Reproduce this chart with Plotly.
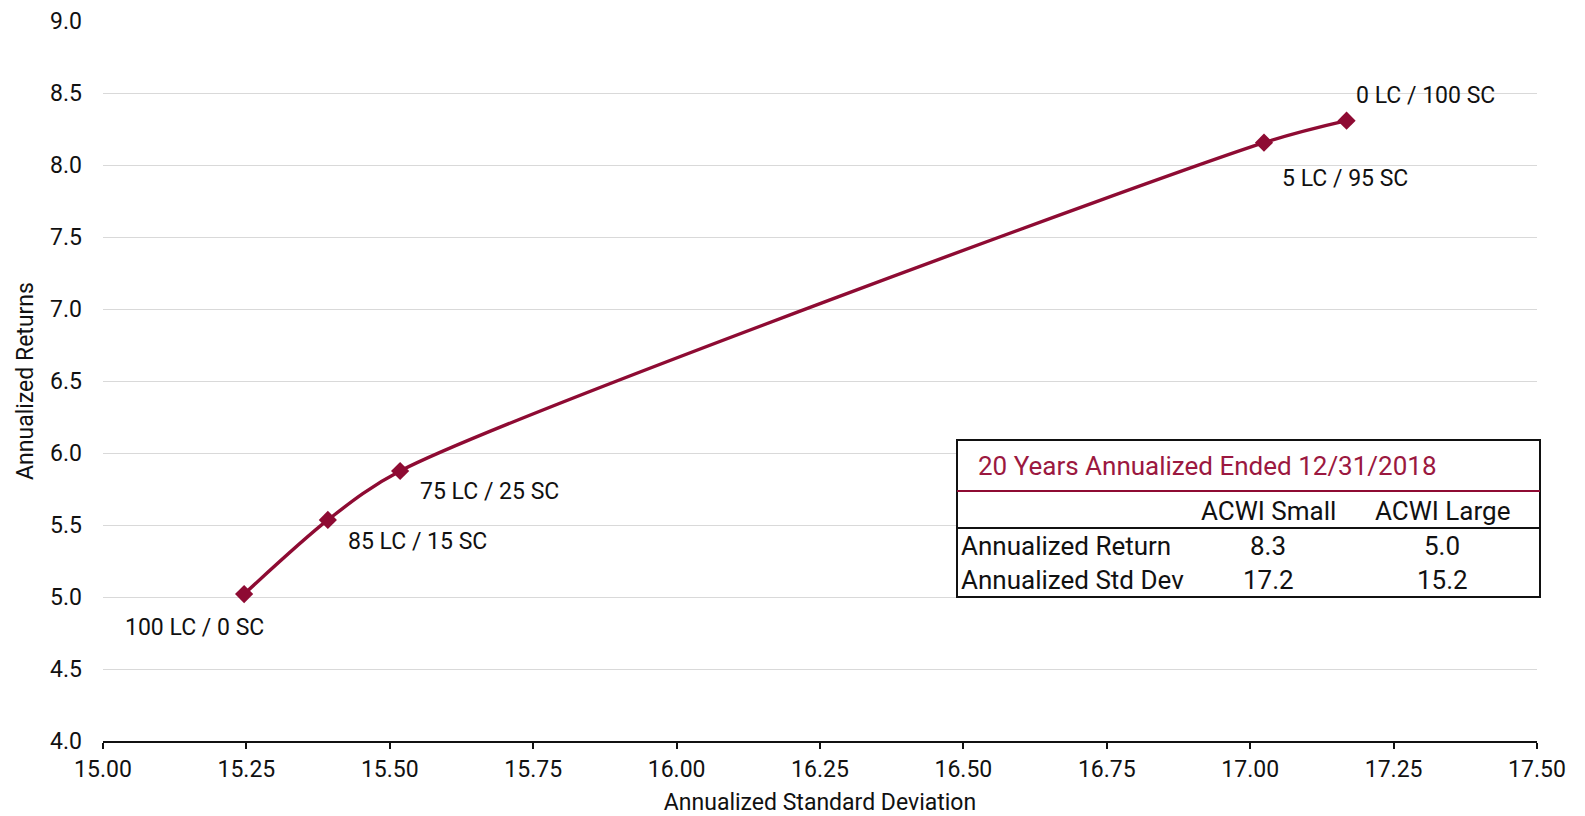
import plotly.graph_objects as go

# Efficient-frontier style mix of large cap (LC) and small cap (SC)
std_dev = [15.246, 15.392, 15.518, 17.024, 17.168]
returns = [5.02, 5.535, 5.875, 8.155, 8.308]
mix_labels = ["100 LC / 0 SC", "85 LC / 15 SC", "75 LC / 25 SC", "5 LC / 95 SC", "0 LC / 100 SC"]
label_shift_x = [-50, 90, 89, 81, 79]
label_shift_y = [-33, -22, -20, -36, 25]

# Summary table
table_title = "20 Years Annualized Ended 12/31/2018"
table_cols = ["ACWI Small", "ACWI Large"]
table_rows = ["Annualized Return", "Annualized Std Dev"]
small_vals = [8.3, 17.2]
large_vals = [5.0, 15.2]

MAROON = "#8E0B33"
FONT = "Roboto"
TXT = "#111111"

fig = go.Figure()
fig.add_trace(go.Scatter(
    x=std_dev, y=returns, mode="lines+markers",
    line=dict(color=MAROON, width=3.4, shape="spline", smoothing=0.8),
    marker=dict(symbol="diamond", size=14, color=MAROON),
    hoverinfo="skip", showlegend=False,
))

for xv, yv, lab, sx, sy in zip(std_dev, returns, mix_labels, label_shift_x, label_shift_y):
    fig.add_annotation(x=xv, y=yv, text=lab, showarrow=False, xshift=sx, yshift=sy,
                       xanchor="center", yanchor="middle",
                       font=dict(family=FONT, size=23, color=TXT))

# Table geometry in paper coordinates
PL, PW, PB, PH = 103, 1434, 741, 720
def px(v):
    return (v - PL) / PW
def py(v):
    return (PB - v) / PH

tx0, tx1 = px(957), px(1540)
ty_top, ty_red, ty_hdr, ty_bot = py(440), py(491), py(528), py(597)

fig.add_shape(type="rect", xref="paper", yref="paper", x0=tx0, x1=tx1, y0=ty_bot, y1=ty_top,
              line=dict(color=TXT, width=2), fillcolor="white", layer="above")
fig.add_shape(type="line", xref="paper", yref="paper", x0=tx0, x1=tx1, y0=ty_red, y1=ty_red,
              line=dict(color=MAROON, width=2))
fig.add_shape(type="line", xref="paper", yref="paper", x0=tx0, x1=tx1, y0=ty_hdr, y1=ty_hdr,
              line=dict(color=TXT, width=2))

TFS = 26
fig.add_annotation(xref="paper", yref="paper", x=px(976), y=py(466), xanchor="left", yanchor="middle",
                   text=table_title, showarrow=False, font=dict(family=FONT, size=TFS, color="#9B1840"))
col_x = [1268, 1442]
for cx, cname in zip(col_x, table_cols):
    fig.add_annotation(xref="paper", yref="paper", x=px(cx), y=py(511), text=cname, showarrow=False,
                       xanchor="center", yanchor="middle",
                       font=dict(family=FONT, size=TFS, color=TXT))
row_y = [546, 580]
for ry, rname, sv, lv in zip(row_y, table_rows, small_vals, large_vals):
    fig.add_annotation(xref="paper", yref="paper", x=px(959), y=py(ry), xanchor="left", yanchor="middle",
                       text=rname, showarrow=False, font=dict(family=FONT, size=TFS, color=TXT))
    for cx, val in zip(col_x, (sv, lv)):
        fig.add_annotation(xref="paper", yref="paper", x=px(cx), y=py(ry), text=f"{val:.1f}",
                           xanchor="center", yanchor="middle",
                           showarrow=False, font=dict(family=FONT, size=TFS, color=TXT))

fig.update_layout(
    width=1585, height=816,
    margin=dict(l=103, r=48, t=21, b=75),
    paper_bgcolor="white", plot_bgcolor="white",
    font=dict(family=FONT, size=23, color=TXT),
    xaxis=dict(
        range=[15, 17.5], dtick=0.25, tick0=15, tickformat=".2f",
        showline=True, linecolor=TXT, linewidth=2,
        ticks="outside", ticklen=6, tickwidth=2, tickcolor=TXT,
        showgrid=False, zeroline=False, automargin=False,
        title=dict(text="Annualized Standard Deviation", font=dict(size=23), standoff=15),
        tickfont=dict(size=23),
    ),
    yaxis=dict(
        range=[4, 9], dtick=0.5, tick0=4, tickformat=".1f",
        showline=False, showgrid=True, gridcolor="#D9D9D9", gridwidth=1,
        zeroline=False, ticklabelstandoff=20, automargin=False,
        title=dict(text="Annualized Returns", font=dict(size=23), standoff=10),
        tickfont=dict(size=23),
    ),
)

fig.write_html("out.html")
